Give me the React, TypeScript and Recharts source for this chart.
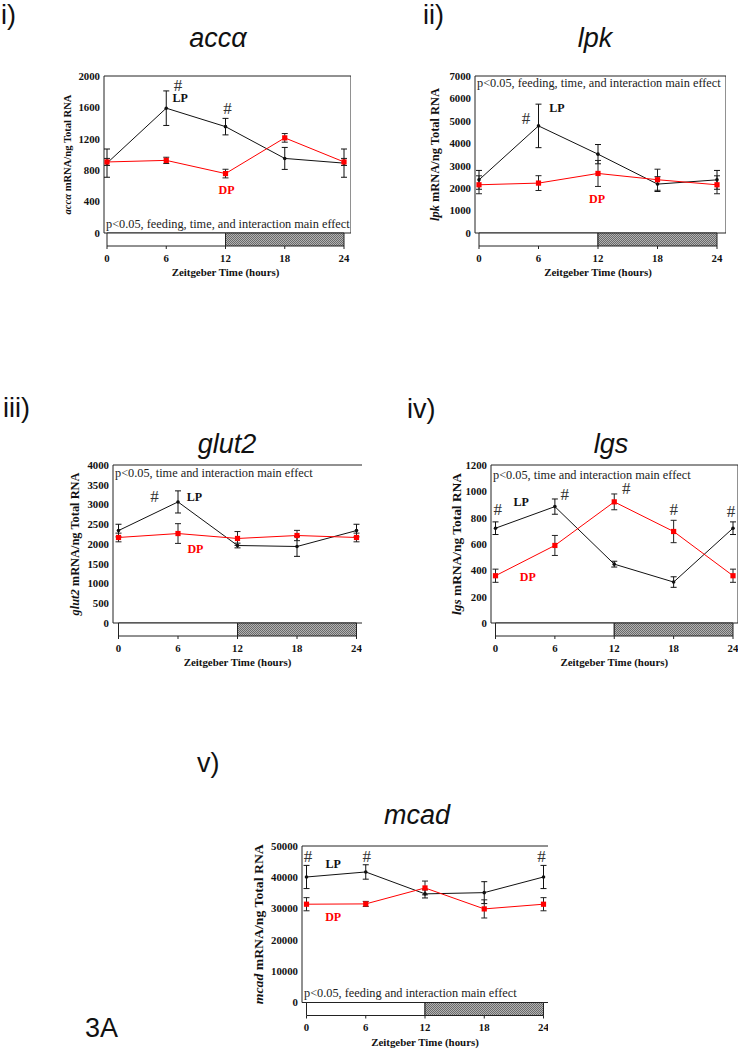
import React from 'react';
import { LineChart, Line, XAxis, YAxis, ErrorBar, ReferenceArea, ReferenceDot } from 'recharts';

// ---------- data ----------
const hours = [0, 6, 12, 18, 24];
const xTicks = [0, 6, 12, 18, 24];

// i) acc-alpha
const accaLP = [890, 1590, 1355, 950, 890];
const accaLPErr = [180, 220, 105, 140, 180];
const accaDP = [905, 925, 757, 1212, 905];
const accaDPErr = [45, 40, 55, 55, 45];
const accaTicks = [0, 400, 800, 1200, 1600, 2000];

// ii) lpk
const lpkLP = [2370, 4775, 3515, 2180, 2370];
const lpkLPErr = [420, 970, 430, 330, 420];
const lpkDP = [2150, 2225, 2655, 2375, 2150];
const lpkDPErr = [400, 330, 580, 470, 400];
const lpkTicks = [0, 1000, 2000, 3000, 4000, 5000, 6000, 7000];

// iii) glut2
const glutLP = [2340, 3065, 1962, 1937, 2340];
const glutLPErr = [160, 280, 60, 250, 160];
const glutDP = [2165, 2265, 2140, 2215, 2165];
const glutDPErr = [110, 250, 175, 130, 110];
const glutTicks = [0, 500, 1000, 1500, 2000, 2500, 3000, 3500, 4000];

// iv) lgs
const lgsLP = [720, 884, 447, 311, 720];
const lgsLPErr = [48, 58, 22, 40, 48];
const lgsDP = [359, 589, 920, 695, 359];
const lgsDPErr = [50, 76, 60, 85, 50];
const lgsTicks = [0, 200, 400, 600, 800, 1000, 1200];

// v) mcad
const mcadLP = [40100, 41700, 34700, 35100, 40100];
const mcadLPErr = [3700, 2300, 1300, 3500, 3700];
const mcadDP = [31400, 31500, 36600, 29900, 31400];
const mcadDPErr = [2100, 800, 2200, 2900, 2100];
const mcadTicks = [0, 10000, 20000, 30000, 40000, 50000];

// annotation anchors (data units: hours, value)
const accaHash = [{ t: 7.2, v: 1885 }, { t: 12.2, v: 1588 }];
const accaLPLabel = { t: 7.4, v: 1723 };
const accaDPLabel = { t: 12.1, v: 554 };

const lpkHash = [{ t: 4.74, v: 5083 }];
const lpkLPLabel = { t: 7.87, v: 5573 };
const lpkDPLabel = { t: 11.9, v: 1516 };

const glutHash = [{ t: 3.63, v: 3191 }];
const glutLPLabel = { t: 7.66, v: 3191 };
const glutDPLabel = { t: 7.76, v: 1877 };

const lgsHash = [
  { t: 0.23, v: 859 },
  { t: 7.0, v: 973 },
  { t: 13.2, v: 1025 },
  { t: 18.0, v: 859 },
  { t: 23.8, v: 846 },
];
const lgsLPLabel = { t: 2.6, v: 922 };
const lgsDPLabel = { t: 3.27, v: 349 };

const mcadHash = [{ t: 0.16, v: 46590 }, { t: 6.1, v: 46590 }, { t: 23.8, v: 46590 }];
const mcadLPLabel = { t: 2.7, v: 44260 };
const mcadDPLabel = { t: 2.7, v: 27440 };

const pFeedTimeInter = 'p<0.05, feeding, time, and interaction  main effect';
const pTimeInter = 'p<0.05, time and interaction main effect';
const pFeedInter = 'p<0.05, feeding and interaction  main effect';

// ---------- styling / layout ----------
const SERIF = '"Liberation Serif", "Times New Roman", Times, serif';
const SANS = '"Liberation Sans", Arial, Helvetica, sans-serif';
const RED = '#ff0000';
const INK = '#111';
const YW = 70;
const MT = 12;
const XH = 40;
const MR = 0;
const BAR = 13;

type Pt = { t: number; v: number };
type Layout = {
  boxL: number; boxR: number; boxT: number; boxB: number;
  x0: number; x24: number; yLabX: number; yLabLen: number; yLabSize: number; pOff: number;
};
type PanelProps = {
  id: string;
  gene: string;
  lp: number[]; lpErr: number[]; dp: number[]; dpErr: number[];
  yTicks: number[];
  hashes: Pt[]; lpLabel: Pt; dpLabel: Pt;
  pText: string; pAt: 'top' | 'bottom';
  layout: Layout;
};

const tickStyle = { fontFamily: SERIF, fontSize: 10.8, fontWeight: 'bold', fill: INK };

const CircleDot = (props: any) => {
  const { cx, cy, index } = props;
  if (cx == null || cy == null) return <g key={`c-${index}`} />;
  return <circle key={`c-${index}`} cx={cx} cy={cy} r={1.8} fill={INK} />;
};
const SquareDot = (props: any) => {
  const { cx, cy, index } = props;
  if (cx == null || cy == null) return <g key={`s-${index}`} />;
  return <rect key={`s-${index}`} x={cx - 2.6} y={cy - 2.6} width={5.2} height={5.2} fill={RED} />;
};

function textLabel(text: string, opts: any) {
  return (lp: any) => {
    const vb = lp.viewBox || {};
    const x = (vb.x || 0) + (vb.width || 0) / 2;
    const y = (vb.y || 0) + (vb.height || 0) / 2;
    return (
      <text x={x} y={y} textAnchor="middle" dominantBaseline="central" {...opts}>
        {text}
      </text>
    );
  };
}

function Panel(p: PanelProps) {
  const L = p.layout;
  const ymax = p.yTicks[p.yTicks.length - 1];
  const pxPerHr = (L.x24 - L.x0) / 24;
  const padL = (L.x0 - L.boxL) / pxPerHr;
  const padR = (L.boxR - L.x24) / pxPerHr;
  const boxH = L.boxB - L.boxT;
  const yMin = (-ymax * BAR) / boxH;
  const plotW = L.boxR - L.boxL;
  const plotH = boxH + BAR;
  const width = YW + plotW + MR;
  const height = MT + plotH + XH;
  const data = hours.map((t, i) => ({ t, lp: p.lp[i], lpErr: p.lpErr[i], dp: p.dp[i], dpErr: p.dpErr[i] }));
  const hatchId = `hatch-${p.id}`;

  const xTitle = () => (
    <text
      x={(L.x0 + L.x24) / 2 - (L.boxL - YW)}
      y={MT + plotH + 30}
      textAnchor="middle"
      fontFamily={SERIF}
      fontSize={10.9}
      fontWeight="bold"
      fill={INK}
    >
      Zeitgeber Time (hours)
    </text>
  );
  const yTitle = () => {
    const cx = YW - L.yLabX;
    const cy = MT + boxH / 2;
    return (
      <text
        x={cx}
        y={cy}
        transform={`rotate(-90 ${cx} ${cy})`}
        textAnchor="middle"
        dominantBaseline="central"
        fontFamily={SERIF}
        fontSize={L.yLabSize}
        fontWeight="bold"
        fill={INK}
        textLength={L.yLabLen}
        lengthAdjust="spacingAndGlyphs"
      >
        <tspan fontStyle="italic">{p.gene}</tspan> mRNA/ng Total RNA
      </text>
    );
  };
  const pLabel = (lp: any) => {
    const vb = lp.viewBox || {};
    const x = (vb.x || 0) + 2;
    const y = p.pAt === 'top' ? (vb.y || 0) + L.pOff + 9 : (vb.y || 0) + (vb.height || 0) - L.pOff;
    return (
      <text x={x} y={y} fontFamily={SERIF} fontSize={12.3} fill="#222">
        {p.pText}
      </text>
    );
  };

  return (
    <div style={{ position: 'absolute', left: L.boxL - YW, top: L.boxT - MT, width, height }}>
      <LineChart width={width} height={height} data={data} margin={{ top: MT, right: MR, bottom: 0, left: 0 }}>
        <defs>
          <pattern id={hatchId} width="2" height="2" patternUnits="userSpaceOnUse">
            <rect width="2" height="2" fill="#b2b2b2" />
            <rect width="1" height="1" fill="#6a6a6a" />
            <rect x="1" y="1" width="1" height="1" fill="#6a6a6a" />
          </pattern>
        </defs>
        <XAxis
          type="number"
          dataKey="t"
          domain={[-padL, 24 + padR]}
          ticks={xTicks}
          interval={0}
          allowDataOverflow
          axisLine={false}
          tickLine={{ stroke: '#222' }}
          tickSize={3}
          tickMargin={5}
          height={XH}
          tick={tickStyle}
          label={{ content: xTitle }}
        />
        <YAxis
          type="number"
          domain={[yMin, ymax]}
          ticks={p.yTicks}
          interval={0}
          allowDataOverflow
          axisLine={false}
          tickLine={false}
          tickSize={0}
          tickMargin={4}
          width={YW}
          tick={tickStyle}
          label={{ content: yTitle }}
        />
        <ReferenceArea
          y1={0}
          y2={ymax}
          fill="none"
          fillOpacity={0}
          stroke="#222"
          strokeWidth={1}
          label={{ content: pLabel }}
        />
        <ReferenceArea x1={0} x2={12} y1={yMin} y2={0} fill="#ffffff" fillOpacity={1} stroke="#222" strokeWidth={1} />
        <ReferenceArea x1={12} x2={24} y1={yMin} y2={0} fill={`url(#${hatchId})`} fillOpacity={1} stroke="#222" strokeWidth={1} />
        <Line
          type="linear"
          dataKey="lp"
          stroke={INK}
          strokeWidth={1}
          dot={CircleDot}
          activeDot={false}
          isAnimationActive={false}
        >
          <ErrorBar dataKey="lpErr" direction="y" width={3} stroke={INK} strokeWidth={1} />
        </Line>
        <Line
          type="linear"
          dataKey="dp"
          stroke={RED}
          strokeWidth={1}
          dot={SquareDot}
          activeDot={false}
          isAnimationActive={false}
        >
          <ErrorBar dataKey="dpErr" direction="y" width={3} stroke="#222" strokeWidth={1} />
        </Line>
        {p.hashes.map((h, i) => (
          <ReferenceDot
            key={`h${i}`}
            x={h.t}
            y={h.v}
            r={0}
            fill="none"
            stroke="none"
            label={{ content: textLabel('#', { fontFamily: SERIF, fontSize: 17, fill: '#333' }) }}
          />
        ))}
        <ReferenceDot
          x={p.lpLabel.t}
          y={p.lpLabel.v}
          r={0}
          fill="none"
          stroke="none"
          label={{ content: textLabel('LP', { fontFamily: SERIF, fontSize: 12, fontWeight: 'bold', fill: INK }) }}
        />
        <ReferenceDot
          x={p.dpLabel.t}
          y={p.dpLabel.v}
          r={0}
          fill="none"
          stroke="none"
          label={{ content: textLabel('DP', { fontFamily: SERIF, fontSize: 12, fontWeight: 'bold', fill: RED }) }}
        />
      </LineChart>
    </div>
  );
}

const layouts: Record<string, Layout> = {
  i: { boxL: 104, boxR: 351, boxT: 76, boxB: 233, x0: 107, x24: 344, yLabX: 37, yLabLen: 120, yLabSize: 10.6, pOff: 5 },
  ii: { boxL: 475, boxR: 726, boxT: 76, boxB: 233, x0: 479, x24: 717, yLabX: 40, yLabLen: 133, yLabSize: 12.2, pOff: 2 },
  iii: { boxL: 112.5, boxR: 362, boxT: 465, boxB: 623, x0: 118, x24: 356, yLabX: 38, yLabLen: 143, yLabSize: 12.2, pOff: 3 },
  iv: { boxL: 491, boxR: 738, boxT: 465, boxB: 623, x0: 495.5, x24: 733, yLabX: 35, yLabLen: 142, yLabSize: 13, pOff: 5 },
  v: { boxL: 301.5, boxR: 548, boxT: 846, boxB: 1002.5, x0: 306, x24: 543, yLabX: 44, yLabLen: 160, yLabSize: 13.5, pOff: 6 },
};

export default function App() {
  return (
    <div
      style={{
        position: 'absolute',
        left: 0,
        top: 0,
        width: 739,
        height: 1050,
        overflow: 'hidden',
        background: '#fff',
        fontFamily: SERIF,
      }}
    >
      <svg width={739} height={1050} style={{ position: 'absolute', left: 0, top: 0 }}>
        <g fontFamily={SANS} fontSize={27} fill="#111">
          <text x={1} y={24}>i)</text>
          <text x={423} y={24}>ii)</text>
          <text x={3} y={417}>iii)</text>
          <text x={407} y={418}>iv)</text>
          <text x={197} y={772}>v)</text>
          <text x={85} y={1037}>3A</text>
        </g>
        <g fontFamily={SANS} fontSize={27} fontStyle="italic" fill="#111" textAnchor="middle">
          <text x={218} y={47}>accα</text>
          <text x={595} y={47}>lpk</text>
          <text x={227} y={453}>glut2</text>
          <text x={611} y={453}>lgs</text>
          <text x={417} y={824}>mcad</text>
        </g>
      </svg>
      <Panel
        id="i"
        gene="accα"
        lp={accaLP}
        lpErr={accaLPErr}
        dp={accaDP}
        dpErr={accaDPErr}
        yTicks={accaTicks}
        hashes={accaHash}
        lpLabel={accaLPLabel}
        dpLabel={accaDPLabel}
        pText={pFeedTimeInter}
        pAt="bottom"
        layout={layouts.i}
      />
      <Panel
        id="ii"
        gene="lpk"
        lp={lpkLP}
        lpErr={lpkLPErr}
        dp={lpkDP}
        dpErr={lpkDPErr}
        yTicks={lpkTicks}
        hashes={lpkHash}
        lpLabel={lpkLPLabel}
        dpLabel={lpkDPLabel}
        pText={pFeedTimeInter}
        pAt="top"
        layout={layouts.ii}
      />
      <Panel
        id="iii"
        gene="glut2"
        lp={glutLP}
        lpErr={glutLPErr}
        dp={glutDP}
        dpErr={glutDPErr}
        yTicks={glutTicks}
        hashes={glutHash}
        lpLabel={glutLPLabel}
        dpLabel={glutDPLabel}
        pText={pTimeInter}
        pAt="top"
        layout={layouts.iii}
      />
      <Panel
        id="iv"
        gene="lgs"
        lp={lgsLP}
        lpErr={lgsLPErr}
        dp={lgsDP}
        dpErr={lgsDPErr}
        yTicks={lgsTicks}
        hashes={lgsHash}
        lpLabel={lgsLPLabel}
        dpLabel={lgsDPLabel}
        pText={pTimeInter}
        pAt="top"
        layout={layouts.iv}
      />
      <Panel
        id="v"
        gene="mcad"
        lp={mcadLP}
        lpErr={mcadLPErr}
        dp={mcadDP}
        dpErr={mcadDPErr}
        yTicks={mcadTicks}
        hashes={mcadHash}
        lpLabel={mcadLPLabel}
        dpLabel={mcadDPLabel}
        pText={pFeedInter}
        pAt="bottom"
        layout={layouts.v}
      />
    </div>
  );
}
